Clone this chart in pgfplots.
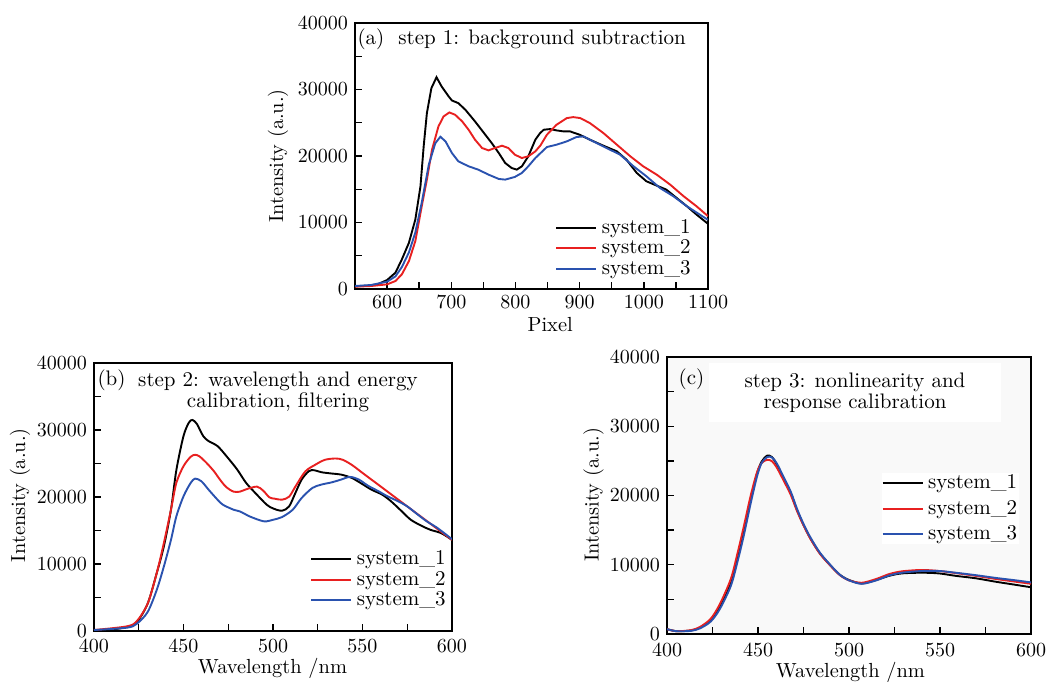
\documentclass[border=0pt]{standalone}
\usepackage{fontspec}
\usepackage{pgfplots}
\pgfplotsset{compat=1.18}
\definecolor{sred}{RGB}{232,32,32}
\definecolor{sblue}{RGB}{42,82,175}
\definecolor{cbg}{RGB}{249,249,249}
\newcommand{\tf}{\fontsize{10.2}{12}\selectfont}
\newcommand{\lf}{\fontsize{10.5}{10.4}\selectfont}
\pgfplotsset{
  panel/.style={
    scale only axis, anchor=south west,
    axis line style={line width=0.9pt},
    tick style={line width=0.7pt, black},
    major tick length=3.5pt, minor tick length=3.5pt,
    tick pos=left, tick align=inside,
    ymin=0, ymax=40000, ytick={0,10000,20000,30000,40000},
    minor y tick num=1, minor x tick num=1,
    scaled ticks=false, /pgf/number format/1000 sep={},
    tick label style={font=\tf},
    label style={font=\tf},
    ylabel={Intensity (a.u.)},
    legend style={draw=none, fill=none, inner sep=0pt, nodes={inner sep=0.8pt}, font=\lf, cells={anchor=west}, row sep=0pt},
    legend image code/.code={\draw[##1,line width=1pt] (0pt,0pt)--(20pt,0pt); \path (21.5pt,0pt);},
    every axis plot/.append style={line width=0.95pt},
  }
}
\begin{document}
\begin{tikzpicture}
\useasboundingbox (0,0) rectangle (524.5pt,341pt);
% ---------------- (a)
\begin{axis}[panel, at={(177.5pt,196.5pt)}, width=176.5pt, height=133pt,
  xmin=550, xmax=1100, xtick={600,700,800,900,1000,1100},
  xlabel={Pixel},
  ylabel style={at={(axis description cs:-0.218,0.5)}, anchor=center},
  xlabel style={at={(axis description cs:0.553,-0.135)}, anchor=center},
  legend style={at={(axis description cs:0.566,0.1523)}, anchor=west}]
\addplot[black] coordinates {(550,400)(570,500)(585,700)(600,1350)(613,2450)(623,4450)(634,6950)(644,10450)(652,15450)(657,21450)(662,26450)(669,30200)(677,31850)(685,30450)(696,28950)(701,28350)(711,27950)(722,26950)(737,25200)(753,23200)(763,21950)(774,20450)(784,18950)(794,18200)(802,17950)(810,18450)(820,19950)(831,22450)(838,23400)(844,23950)(854,24050)(864,23850)(875,23700)(885,23700)(900,23200)(916,22450)(937,21550)(958,20700)(973,19450)(989,17450)(1004,16200)(1020,15550)(1035,14950)(1051,13700)(1067,12450)(1082,11200)(1100,9800)};
\addplot[sred] coordinates {(550,350)(575,450)(600,700)(613,1200)(623,2200)(634,4200)(644,7200)(654,12450)(662,16450)(670,20950)(680,24450)(688,25950)(697,26550)(706,26200)(717,25200)(727,23950)(737,22450)(748,21200)(758,20850)(768,21200)(779,21550)(789,21200)(799,20200)(810,19700)(820,19950)(831,20700)(839,21600)(849,23200)(864,24700)(880,25700)(890,25850)(901,25700)(916,24950)(937,23450)(958,21700)(979,19950)(999,18450)(1020,17200)(1041,15700)(1062,13950)(1082,12450)(1100,10950)};
\addplot[sblue] coordinates {(550,450)(575,600)(600,1100)(613,1900)(623,3300)(634,5500)(644,8500)(654,13000)(665,18700)(675,21900)(683,22900)(691,22200)(701,20450)(711,19200)(727,18450)(742,17950)(758,17200)(774,16550)(784,16450)(799,16850)(810,17450)(820,18450)(831,19700)(849,21350)(864,21700)(880,22200)(895,22850)(906,22950)(921,22200)(942,21200)(963,20200)(984,18450)(1004,16950)(1025,15200)(1046,13950)(1067,12450)(1087,11200)(1100,10400)};
\legend{system\_1,system\_2,system\_3}
\node[font=\lf, anchor=center] at (axis description cs:0.0453,0.938) {(a)};
\node[font=\lf, anchor=west, inner sep=0pt] at (axis description cs:0.1218,0.938) {step 1: background subtraction};
\end{axis}
% ---------------- (b)
\begin{axis}[panel, at={(47pt,25.5pt)}, width=179pt, height=134pt,
  xmin=400, xmax=600, xtick={400,450,500,550,600},
  xticklabel style={yshift=-1pt},
  xlabel={Wavelength /nm},
  ylabel style={at={(axis description cs:-0.2067,0.507)}, anchor=center},
  xlabel style={at={(axis description cs:0.4986,-0.138)}, anchor=center},
  legend style={at={(axis description cs:0.603,0.192)}, anchor=west}]
\addplot[black, smooth] coordinates {(400,150)(409,200)(418.5,600)(424,1350)(430,4100)(435,8600)(439,12600)(443,18100)(446,24000)(450,29100)(453,31100)(455,31500)(457.5,30900)(461,29100)(464,28350)(469,27600)(474,26100)(480,24100)(485,22100)(491,20350)(496.5,18850)(500,18300)(505,17950)(509,18600)(512.5,20600)(516,22600)(520,23850)(523,24000)(527,23700)(533,23500)(538,23350)(544,22850)(549.5,22000)(555,21100)(561,20350)(566,19350)(572,17850)(577,16600)(583,15700)(588,15100)(594,14600)(600,13600)};
\addplot[sred, smooth] coordinates {(400,150)(418.5,700)(424,1500)(430,4100)(435,8600)(439,13100)(443,18100)(446,22100)(450,24600)(454,26000)(456.5,26300)(459,26050)(463,25050)(467,23850)(470.5,22550)(474,21450)(478,20800)(481.5,20800)(485,21150)(491,21550)(494.5,20950)(498,19950)(501,19750)(505,19600)(509,20050)(512.5,21550)(518,23800)(523.5,24800)(529,25550)(535,25750)(539,25550)(544,24800)(549.5,23700)(555,22600)(561,21400)(566,20400)(572,19200)(577,18200)(583,17000)(588,16000)(594,14800)(600,13600)};
\addplot[sblue, smooth] coordinates {(400,150)(418.5,500)(424,1100)(430,2850)(435,6100)(439,9600)(443,13600)(446,17100)(450,20100)(454,22100)(456.5,22750)(460,22350)(464,21100)(469,19600)(472,18850)(478,18100)(481.5,17850)(487,17100)(493,16500)(496,16350)(500,16600)(505,17000)(511,18100)(516,19850)(522,21350)(527,21850)(533,22200)(538,22600)(543,23000)(548,22600)(553,21700)(559,20850)(564,20100)(570,19350)(575,18600)(581,17350)(586,16350)(592,15350)(600,13700)};
\legend{system\_1,system\_2,system\_3}
\node[font=\lf, anchor=center] at (axis description cs:0.0489,0.9366) {(b)};
\node[font=\lf, align=center, anchor=center, inner sep=0pt] at (axis description cs:0.514,0.892) {step 2: wavelength and energy\\calibration, filtering};
\end{axis}
% ---------------- (c)
\begin{axis}[panel, at={(333.5pt,24pt)}, width=182pt, height=138.5pt,
  axis background/.style={fill=cbg},
  xmin=400, xmax=600, xtick={400,450,500,550,600},
  xticklabel style={yshift=-1.2pt},
  xlabel={Wavelength /nm},
  ylabel style={at={(axis description cs:-0.202,0.502)}, anchor=center},
  xlabel style={at={(axis description cs:0.504,-0.137)}, anchor=center},
  legend style={at={(axis description cs:0.5884,0.453)}, anchor=west, fill=white, row sep=2.8pt}]
\addplot[black, smooth] coordinates {(400,700)(403,500)(406,400)(413,500)(418,900)(424,2000)(429,3950)(435,7300)(438.5,10700)(442,14550)(446,19400)(449.5,23200)(452,24900)(455,25750)(457.7,25550)(460.4,24450)(464,22500)(468,20350)(471.4,17900)(475,15750)(478.8,13800)(484,11650)(490,9850)(495,8550)(500,7800)(507,7300)(515,7800)(522,8400)(529,8750)(540,8850)(549.5,8750)(558.6,8400)(569.6,8050)(580.6,7550)(591.6,7100)(600,6750)};
\addplot[sred, smooth] coordinates {(400,700)(403,500)(406,400)(413,550)(418,1000)(424,2200)(429,4300)(435,7900)(438.5,11400)(442,15300)(446,20000)(449.5,23400)(452,24700)(455,25150)(457.7,24950)(460.4,24000)(464,22200)(468,20100)(471.4,17800)(475,15700)(478.8,13750)(484,11600)(490,9800)(495,8500)(500,7750)(507,7400)(515,7950)(522,8650)(529,9050)(540,9250)(549.5,9100)(558.6,8800)(569.6,8400)(580.6,7950)(591.6,7550)(600,7250)};
\addplot[sblue, smooth] coordinates {(400,700)(403,500)(406,400)(413,450)(418,800)(424,1800)(429,3600)(435,6900)(438.5,10200)(442,14000)(446,18900)(449.5,22800)(452,24700)(455,25550)(457.7,25500)(460.4,24600)(464,22700)(468,20550)(471.4,18100)(475,15900)(478.8,13950)(484,11750)(490,9900)(495,8550)(500,7750)(507,7250)(515,7750)(522,8450)(529,8850)(540,9100)(549.5,9100)(558.6,8850)(569.6,8500)(580.6,8100)(591.6,7750)(600,7450)};
\legend{system\_1,system\_2,system\_3}
\node[font=\lf, anchor=center] at (axis description cs:0.0673,0.9206) {(c)};
\node[font=\lf, align=center, anchor=center, fill=white, inner xsep=18pt, inner ysep=5pt] at (axis description cs:0.5165,0.872) {step 3: nonlinearity and\\response calibration};
\end{axis}
\end{tikzpicture}
\end{document}
